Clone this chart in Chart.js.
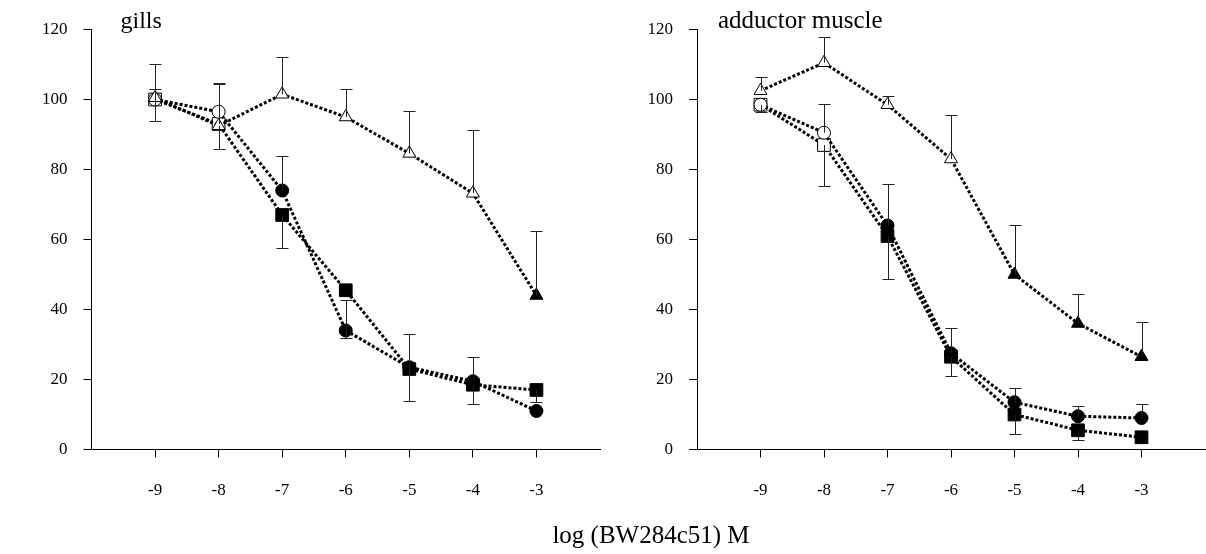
<!DOCTYPE html>
<html>
<head>
<meta charset="utf-8">
<script src="https://cdn.jsdelivr.net/npm/chart.js@4.4.0/dist/chart.umd.min.js"></script>
<style>
  body { margin: 0; background: #fff; }
  #wrap { position: relative; width: 1206px; height: 554px; }
  .panel { position: absolute; top: 0; }
  #xtitle {
    position: absolute; left: 0; width: 1302px; top: 521px;
    text-align: center; font-family: "Liberation Serif", serif; font-size: 25px; color: #000;
  }
</style>
</head>
<body>
<div id="wrap">
  <div class="panel" style="left:0"><canvas id="gills" width="603" height="554"></canvas></div>
  <div class="panel" style="left:603px"><canvas id="muscle" width="603" height="554"></canvas></div>
  <div id="xtitle">log (BW284c51) M</div>
</div>
<script>
// log concentration
var logConc = [-9, -8, -7, -6, -5, -4, -3];

// gills
var gillsTitle = 'gills';
var gillsCircle = [100, 96.5, 74, 34, 23.5, 19.5, 11];
var gillsSquare = [100, 93, 67, 45.5, 23, 18.5, 17];
var gillsTriangle = [100.5, 92.5, 101.5, 95, 84.6, 73.2, 44];
var gillsCircleUp = [0, 8.3, 10, 8.7, 0, 6.8, 0];
var gillsCircleDown = [0, 0, 0, 2.2, 9.5, 0, 0];
var gillsSquareUp = [3, 11.5, 0, 0, 9.9, 0, 0];
var gillsSquareDown = [0, 0, 9.5, 0, 0, 5.6, 3.5];
var gillsTriangleUp = [9.7, 0, 10.5, 8, 12.1, 18.1, 18.4];
var gillsTriangleDown = [6.7, 6.5, 0, 0, 0, 0, 0];

// adductor muscle
var muscleTitle = 'adductor muscle';
var muscleCircle = [98.5, 90.5, 64, 27.5, 13.5, 9.5, 9];
var muscleSquare = [98.5, 87, 61, 26.5, 10, 5.5, 3.5];
var muscleTriangle = [102.5, 110.5, 98.5, 83, 50, 36, 26.5];
var muscleCircleUp = [0, 8.3, 11.8, 7.1, 4.2, 2.9, 4];
var muscleCircleDown = [0, 0, 0, 0, 0, 0, 0];
var muscleSquareUp = [0, 0, 0, 0, 0, 0, 0];
var muscleSquareDown = [2.1, 11.8, 12.3, 5.6, 5.5, 2.9, 0];
var muscleTriangleUp = [3.9, 7.5, 2.5, 12.5, 14.2, 8.3, 10];
var muscleTriangleDown = [0, 0, 0, 0, 0, 0, 0];

// how many of the first points are drawn with open symbols
var gillsOpen = { circle: 2, rect: 2, triangle: 6 };
var muscleOpen = { circle: 2, rect: 2, triangle: 4 };

var serif = '"Liberation Serif", "Times New Roman", serif';

function fills(n, openCount) {
  var out = [];
  for (var i = 0; i < n; i++) out.push(i < openCount ? '#fff' : '#000');
  return out;
}

function series(values, up, down, style, radius, openCount) {
  return {
    data: values.map(function(v, i){ return { x: logConc[i], y: v }; }),
    errUp: up,
    errDown: down,
    borderColor: '#000',
    borderWidth: 3,
    borderDash: [3, 2],
    borderCapStyle: 'butt',
    tension: 0,
    fill: false,
    pointStyle: style,
    pointRadius: radius,
    pointBorderWidth: 1,
    pointBorderColor: '#000',
    pointBackgroundColor: fills(values.length, openCount)
  };
}

// vertical error bars with caps
var errorBars = {
  id: 'errorBars',
  afterDatasetsDraw: function(chart){
    var ctx = chart.ctx, ys = chart.scales.y;
    ctx.save();
    ctx.strokeStyle = '#222';
    ctx.lineWidth = 1;
    chart.data.datasets.forEach(function(ds, di){
      var meta = chart.getDatasetMeta(di);
      meta.data.forEach(function(pt, i){
        var v = ds.data[i].y;
        [[ds.errUp[i], 1], [ds.errDown[i], -1]].forEach(function(e){
          if (!e[0]) return;
          var y2 = Math.round(ys.getPixelForValue(v + e[1] * e[0])) + 0.5;
          var x = Math.round(pt.x) + 0.5;
          ctx.beginPath();
          ctx.moveTo(x, pt.y);
          ctx.lineTo(x, y2);
          ctx.moveTo(x - 6, y2);
          ctx.lineTo(x + 6, y2);
          ctx.stroke();
        });
      });
    });
    ctx.restore();
  }
};

// panel name in upper left corner
var panelTitle = {
  id: 'panelTitle',
  afterDraw: function(chart, args, opts){
    var ctx = chart.ctx;
    ctx.save();
    ctx.fillStyle = '#000';
    ctx.font = opts.size + 'px ' + serif;
    ctx.textBaseline = 'alphabetic';
    ctx.fillText(opts.text, chart.chartArea.left + opts.dx, 28);
    ctx.restore();
  }
};

function buildPanel(el, title, titleSize, dx, axisWidth, padRight, sets) {
  return new Chart(document.getElementById(el), {
    type: 'line',
    data: { datasets: sets },
    options: {
      responsive: false,
      animation: false,
      layout: { autoPadding: false, padding: { top: 29.5, right: padRight, left: 0, bottom: 0 } },
      plugins: {
        legend: { display: false },
        tooltip: { enabled: false },
        panelTitle: { text: title, dx: dx, size: titleSize }
      },
      scales: {
        x: {
          type: 'linear',
          min: -10,
          max: -2,
          afterBuildTicks: function(s){ s.ticks = logConc.map(function(v){ return { value: v }; }); },
          afterFit: function(s){ s.height = 104.5; s.paddingLeft = 0; s.paddingRight = 0; },
          grid: { drawOnChartArea: false, tickLength: 8, color: '#000' },
          border: { color: '#000', width: 1 },
          ticks: { color: '#000', padding: 23, maxRotation: 0, font: { family: serif, size: 17 } }
        },
        y: {
          min: 0,
          max: 120,
          ticks: { stepSize: 20, color: '#000', padding: 16, font: { family: serif, size: 17 } },
          afterFit: function(s){ s.width = axisWidth; },
          grid: { drawOnChartArea: false, tickLength: 8, color: '#000' },
          border: { color: '#000', width: 1 }
        }
      }
    },
    plugins: [errorBars, panelTitle]
  });
}

buildPanel('gills', gillsTitle, 24, 29, 91.5, 3, [
  series(gillsTriangle, gillsTriangleUp, gillsTriangleDown, 'triangle', 7.5, gillsOpen.triangle),
  series(gillsCircle, gillsCircleUp, gillsCircleDown, 'circle', 6.5, gillsOpen.circle),
  series(gillsSquare, gillsSquareUp, gillsSquareDown, 'rect', 9, gillsOpen.rect)
]);

buildPanel('muscle', muscleTitle, 25, 21, 94, 1, [
  series(muscleTriangle, muscleTriangleUp, muscleTriangleDown, 'triangle', 7.5, muscleOpen.triangle),
  series(muscleCircle, muscleCircleUp, muscleCircleDown, 'circle', 6.5, muscleOpen.circle),
  series(muscleSquare, muscleSquareUp, muscleSquareDown, 'rect', 9, muscleOpen.rect)
]);
</script>
</body>
</html>
